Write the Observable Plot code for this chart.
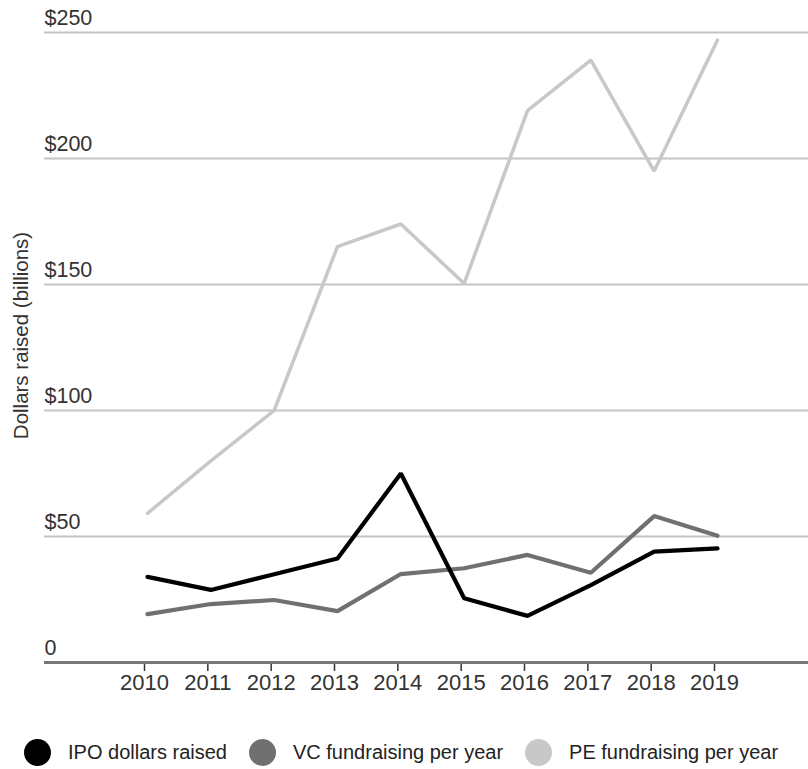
<!DOCTYPE html>
<html><head><meta charset="utf-8">
<script src="https://cdn.jsdelivr.net/npm/d3@7"></script>
<script src="https://cdn.jsdelivr.net/npm/@observablehq/plot@0.6"></script>
<style>
body{margin:0;background:#fff;font-family:"Liberation Sans",Arial,sans-serif;}
#chart svg{display:block;}
g[aria-label="ytick-labels"] text{letter-spacing:1.6px;}
g[aria-label="ytitle"] text{letter-spacing:1.2px;}
#legend{display:flex;align-items:center;height:28px;margin-top:38px;padding-left:24px;font-size:20px;color:#222;}
.sw{width:27px;height:27px;border-radius:50%;margin-right:17px;flex:none;}
.lab{margin-right:22px;white-space:nowrap;}
</style></head><body>
<div id="chart"></div><div id="legend"></div>
<script>
const years = [2010, 2011, 2012, 2013, 2014, 2015, 2016, 2017, 2018, 2019];
const ipo = [34, 28.8, 35, 41.3, 75, 25.5, 18.5, 30.7, 44, 45.3];
const vc = [19.2, 23.2, 24.8, 20.4, 35.1, 37.4, 42.7, 35.6, 58.1, 50.3];
const pe = [59.2, 80, 100, 165, 174, 150.4, 219, 239, 195, 247];
const seriesNames = ["IPO dollars raised", "VC fundraising per year", "PE fundraising per year"];
const seriesColors = ["#000000", "#707070", "#c8c8c8"];
const yTicks = [0, 50, 100, 150, 200, 250];
const yTickLabels = ["0", "$50", "$100", "$150", "$200", "$250"];
const yTitle = "Dollars raised (billions)";

const seriesValues = [ipo, vc, pe];
const rows = [];
seriesNames.forEach((name, i) => years.forEach((yr, j) => rows.push({year: yr, value: seriesValues[i][j], series: name})));
const colorOf = Object.fromEntries(seriesNames.map((n, i) => [n, seriesColors[i]]));

const chart = Plot.plot({
  width: 808,
  height: 700,
  marginLeft: 44,
  marginRight: 0,
  marginTop: 20,
  marginBottom: 38,
  style: {fontFamily: "'Liberation Sans', Arial, sans-serif", color: "#333", background: "#fff"},
  x: {type: "linear", domain: [2010, 2019], range: [147, 717], axis: null},
  y: {domain: [0, 250], range: [662, 32], axis: null},
  marks: [
    Plot.ruleY(yTicks.filter(d => d > 0), {stroke: "#c4c4c4", strokeWidth: 2}),
    Plot.text(yTicks, {y: d => d, text: (d, i) => yTickLabels[i], frameAnchor: "left", textAnchor: "start", dy: -14, fontSize: 21.5, fill: "#333", ariaLabel: "ytick-labels"}),
    Plot.text([yTitle], {text: d => d, frameAnchor: "left", textAnchor: "middle", rotate: -90, dx: -23, dy: -6, fontSize: 20.5, fill: "#333", ariaLabel: "ytitle"}),
    Plot.axisX({ticks: years, tickFormat: d => String(d), tickSize: 9, tickPadding: 3, fontSize: 22, stroke: "#333", strokeWidth: 1.5, dx: -3, label: null}),
    Plot.ruleY([0], {stroke: "#777", strokeWidth: 3}),
    ...[2, 1, 0].map(i => Plot.line(rows.filter(r => r.series === seriesNames[i]), {
      x: "year", y: "value", stroke: colorOf[seriesNames[i]], strokeWidth: i === 2 ? 3.5 : 4.2, strokeLinejoin: "miter"
    }))
  ]
});
document.getElementById("chart").append(chart);

const legend = document.getElementById("legend");
seriesNames.forEach((n, i) => {
  const sw = document.createElement("span");
  sw.className = "sw";
  sw.style.background = seriesColors[i];
  const lab = document.createElement("span");
  lab.className = "lab";
  lab.textContent = n;
  legend.append(sw, lab);
});
</script>
</body></html>
